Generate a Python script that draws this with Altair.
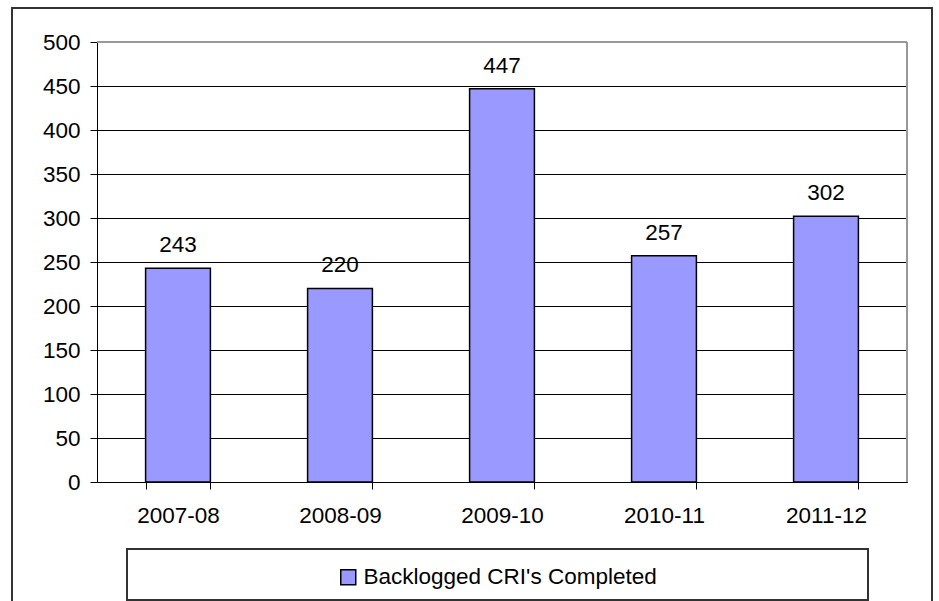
import altair as alt
import pandas as pd

years = ["2007-08", "2008-09", "2009-10", "2010-11", "2011-12"]
values = [243, 220, 447, 257, 302]
series = "Backlogged CRI's Completed"

df = pd.DataFrame({"year": years, "value": values, "series": [series] * len(years)})

FONT = "Liberation Sans"
W, H = 810, 440

x_enc = alt.X("year:N", sort=years,
              scale=alt.Scale(paddingInner=0.6, paddingOuter=0.3),
              axis=alt.Axis(title=None, labelAngle=0, labelFontSize=22.5, labelFont=FONT,
                            labelColor="black", labelPadding=15, tickBand="extent",
                            tickSize=7, tickColor="black", domainColor="black",
                            grid=False))
y_enc = alt.Y("value:Q", scale=alt.Scale(domain=[0, 500], nice=False),
              axis=alt.Axis(title=None, values=list(range(0, 501, 50)), labelFontSize=22.5,
                            labelFont=FONT, labelColor="black", labelPadding=10,
                            tickSize=7, tickColor="black", domainColor="black",
                            grid=True, gridColor="black", gridWidth=1))

base = alt.Chart(df)

bars = base.mark_bar(stroke="black", strokeWidth=1.5).encode(
    x=x_enc, y=y_enc,
    color=alt.Color("series:N", scale=alt.Scale(range=["#9999FF"]),
                    legend=alt.Legend(title=None, orient="none", legendX=240, legendY=524,
                                      symbolType="square", symbolSize=225,
                                      symbolStrokeColor="black", symbolStrokeWidth=1.5,
                                      symbolOpacity=1, labelLimit=0,
                                      labelFontSize=22.5, labelFont=FONT, labelColor="black",
                                      labelOffset=4, padding=0)),
)

labels = base.mark_text(fontSize=22.5, font=FONT, color="black", dy=-16,
                        baseline="alphabetic").encode(
    x=alt.X("year:N", sort=years), y="value:Q", text="value:Q")

border_top = base.mark_rule(color="#999999", strokeWidth=2).encode(
    x=alt.value(0), x2=alt.value(W), y=alt.value(0))
border_right = base.mark_rule(color="#999999", strokeWidth=2).encode(
    x=alt.value(W), y=alt.value(0), y2=alt.value(H))

outer = base.mark_rect(fill=None, stroke="#333333", strokeWidth=2, clip=False).encode(
    x=alt.value(-85), x2=alt.value(835), y=alt.value(-34), y2=alt.value(620))

legend_box = base.mark_rect(fill=None, stroke="#333333", strokeWidth=1.5, clip=False).encode(
    x=alt.value(30), x2=alt.value(771), y=alt.value(507), y2=alt.value(558))

chart = alt.layer(bars, labels, border_top, border_right, outer, legend_box).properties(
    width=W, height=H,
    autosize=alt.AutoSizeParams(type="none"),
    padding={"left": 97, "top": 42, "right": 32, "bottom": 119},
    background="white",
).configure_view(stroke=None).configure(font=FONT)

chart.save("out.html", embed_options={"renderer": "svg", "actions": False})
